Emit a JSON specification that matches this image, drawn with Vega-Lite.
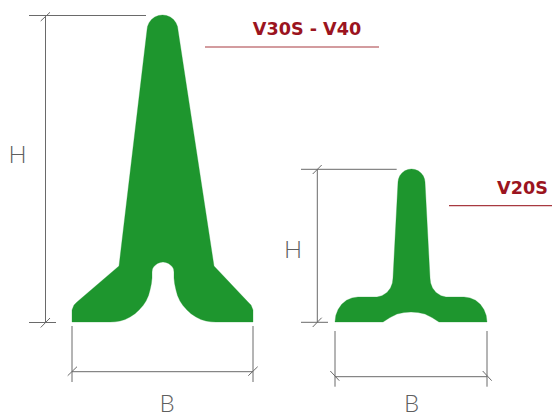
{"$schema":"https://vega.github.io/schema/vega-lite/v6.json","width":552,"height":415,"padding":0,"autosize":{"type":"none"},"background":"white","config":{"view":{"stroke":null}},
"datasets":{
"profiles":[
{"p":"V30S","i":1,"x":147,"y":30},{"p":"V30S","i":2,"x":147.5,"y":26.5},{"p":"V30S","i":3,"x":149.1,"y":22.75},{"p":"V30S","i":4,"x":151.5,"y":19.5},{"p":"V30S","i":5,"x":154.75,"y":17.1},{"p":"V30S","i":6,"x":158.5,"y":15.5},{"p":"V30S","i":7,"x":162.5,"y":15},{"p":"V30S","i":8,"x":166.5,"y":15.5},{"p":"V30S","i":9,"x":170.25,"y":17.1},{"p":"V30S","i":10,"x":173.5,"y":19.5},{"p":"V30S","i":11,"x":175.9,"y":22.75},{"p":"V30S","i":12,"x":177.5,"y":26.5},{"p":"V30S","i":13,"x":178,"y":30},
{"p":"V30S","i":14,"x":214,"y":266},{"p":"V30S","i":15,"x":248,"y":302},{"p":"V30S","i":16,"x":251,"y":305},{"p":"V30S","i":17,"x":253,"y":310},{"p":"V30S","i":18,"x":253,"y":322},
{"p":"V30S","i":19,"x":216,"y":322},{"p":"V30S","i":20,"x":211,"y":321.8},{"p":"V30S","i":21,"x":206,"y":321},{"p":"V30S","i":22,"x":201,"y":319.5},{"p":"V30S","i":23,"x":196,"y":317},{"p":"V30S","i":24,"x":191,"y":313.7},{"p":"V30S","i":25,"x":187,"y":310},{"p":"V30S","i":26,"x":183,"y":305.5},{"p":"V30S","i":27,"x":180,"y":301},{"p":"V30S","i":28,"x":177.5,"y":295.5},{"p":"V30S","i":29,"x":176,"y":290},{"p":"V30S","i":30,"x":174.7,"y":284},{"p":"V30S","i":31,"x":174,"y":278},{"p":"V30S","i":32,"x":174,"y":272},
{"p":"V30S","i":33,"x":173.6,"y":269},{"p":"V30S","i":34,"x":172.5,"y":267},{"p":"V30S","i":35,"x":170.8,"y":265.2},{"p":"V30S","i":36,"x":168.5,"y":263.5},{"p":"V30S","i":37,"x":165.8,"y":262.4},{"p":"V30S","i":38,"x":163,"y":262},{"p":"V30S","i":39,"x":160.2,"y":262.4},{"p":"V30S","i":40,"x":157.5,"y":263.5},{"p":"V30S","i":41,"x":155.2,"y":265.2},{"p":"V30S","i":42,"x":153.5,"y":267},{"p":"V30S","i":43,"x":152.4,"y":269},{"p":"V30S","i":44,"x":152,"y":272},
{"p":"V30S","i":45,"x":152,"y":278},{"p":"V30S","i":46,"x":151.3,"y":284},{"p":"V30S","i":47,"x":150,"y":290},{"p":"V30S","i":48,"x":148.5,"y":295.5},{"p":"V30S","i":49,"x":146,"y":301},{"p":"V30S","i":50,"x":143,"y":305.5},{"p":"V30S","i":51,"x":139,"y":310},{"p":"V30S","i":52,"x":135,"y":313.7},{"p":"V30S","i":53,"x":130,"y":317},{"p":"V30S","i":54,"x":125,"y":319.5},{"p":"V30S","i":55,"x":120,"y":321},{"p":"V30S","i":56,"x":115,"y":321.8},{"p":"V30S","i":57,"x":110,"y":322},
{"p":"V30S","i":58,"x":72,"y":322},{"p":"V30S","i":59,"x":72,"y":310},{"p":"V30S","i":60,"x":74,"y":305},{"p":"V30S","i":61,"x":77,"y":302},{"p":"V30S","i":62,"x":119,"y":266},{"p":"V30S","i":63,"x":147,"y":30},
{"p":"V20S","i":1,"x":398,"y":182},{"p":"V20S","i":2,"x":398.5,"y":179},{"p":"V20S","i":3,"x":399.8,"y":175.75},{"p":"V20S","i":4,"x":402,"y":173},{"p":"V20S","i":5,"x":404.75,"y":170.8},{"p":"V20S","i":6,"x":408,"y":169.5},{"p":"V20S","i":7,"x":411.5,"y":169},{"p":"V20S","i":8,"x":415,"y":169.5},{"p":"V20S","i":9,"x":418.25,"y":170.8},{"p":"V20S","i":10,"x":421,"y":173},{"p":"V20S","i":11,"x":423.2,"y":175.75},{"p":"V20S","i":12,"x":424.5,"y":179},{"p":"V20S","i":13,"x":425,"y":182},
{"p":"V20S","i":14,"x":430,"y":278},{"p":"V20S","i":15,"x":430.6,"y":283},{"p":"V20S","i":16,"x":432.5,"y":288},{"p":"V20S","i":17,"x":436,"y":292.5},{"p":"V20S","i":18,"x":441,"y":295.7},{"p":"V20S","i":19,"x":446,"y":297},{"p":"V20S","i":20,"x":464,"y":297},{"p":"V20S","i":21,"x":470,"y":297.9},{"p":"V20S","i":22,"x":475.5,"y":300.3},{"p":"V20S","i":23,"x":480.3,"y":304.3},{"p":"V20S","i":24,"x":483.9,"y":309.5},{"p":"V20S","i":25,"x":486.2,"y":315.5},{"p":"V20S","i":26,"x":487,"y":322},
{"p":"V20S","i":27,"x":439,"y":322},{"p":"V20S","i":28,"x":432,"y":317.5},{"p":"V20S","i":29,"x":425,"y":314},{"p":"V20S","i":30,"x":418,"y":312.5},{"p":"V20S","i":31,"x":411,"y":312},{"p":"V20S","i":32,"x":404,"y":312.5},{"p":"V20S","i":33,"x":397,"y":314},{"p":"V20S","i":34,"x":390,"y":317.5},{"p":"V20S","i":35,"x":383,"y":322},
{"p":"V20S","i":36,"x":335,"y":322},{"p":"V20S","i":37,"x":335.8,"y":315.5},{"p":"V20S","i":38,"x":338.1,"y":309.5},{"p":"V20S","i":39,"x":341.7,"y":304.3},{"p":"V20S","i":40,"x":346.5,"y":300.3},{"p":"V20S","i":41,"x":352,"y":297.9},{"p":"V20S","i":42,"x":358,"y":297},{"p":"V20S","i":43,"x":377,"y":297},{"p":"V20S","i":44,"x":382,"y":295.7},{"p":"V20S","i":45,"x":387,"y":292.5},{"p":"V20S","i":46,"x":390.5,"y":288},{"p":"V20S","i":47,"x":392.4,"y":283},{"p":"V20S","i":48,"x":393,"y":278},{"p":"V20S","i":49,"x":398,"y":182}
],
"dims":[
{"x":45.5,"y":15.5,"x2":45.5,"y2":322.5},{"x":29,"y":15.5,"x2":146,"y2":15.5},{"x":29,"y":322.5,"x2":56,"y2":322.5},{"x":40.7,"y":21,"x2":50,"y2":12.3},{"x":40.7,"y":327.5,"x2":50,"y2":318},
{"x":72,"y":326,"x2":72,"y2":382},{"x":253,"y":326,"x2":253,"y2":382},{"x":72,"y":371.7,"x2":253,"y2":371.7},{"x":67.7,"y":375.7,"x2":77,"y2":366.7},{"x":248.3,"y":375.7,"x2":257.7,"y2":366.7},
{"x":317.3,"y":169.3,"x2":317.3,"y2":322.3},{"x":301,"y":169.3,"x2":396.7,"y2":169.3},{"x":301,"y":322.3,"x2":328,"y2":322.3},{"x":312.7,"y":174,"x2":321.7,"y2":165},{"x":312.7,"y":327,"x2":321.7,"y2":317.7},
{"x":335,"y":331,"x2":335,"y2":386.7},{"x":487,"y":331,"x2":487,"y2":386.7},{"x":335,"y":376.7,"x2":487,"y2":376.7},{"x":330.3,"y":371,"x2":339.3,"y2":380.7},{"x":482.7,"y":371,"x2":491.7,"y2":380.7}
],
"leaders":[{"x":205,"y":47,"x2":379,"y2":47},{"x":449,"y":205.7,"x2":552,"y2":205.7}],
"letters":[{"t":"H","x":17.5,"y":156},{"t":"B","x":167,"y":405},{"t":"H","x":293,"y":251},{"t":"B","x":411.5,"y":405}],
"names":[{"t":"V30S - V40","x":307,"y":30},{"t":"V20S","x":522.5,"y":189}]
},
"layer":[
{"data":{"name":"profiles"},"mark":{"type":"line","fill":"#1e962e","stroke":"#1e962e","strokeWidth":0.3,"interpolate":"linear"},"encoding":{"x":{"field":"x","type":"quantitative","scale":{"domain":[0,552],"nice":false,"zero":false},"axis":null},"y":{"field":"y","type":"quantitative","scale":{"domain":[415,0],"nice":false,"zero":false},"axis":null},"detail":{"field":"p"},"order":{"field":"i","type":"quantitative"}}},
{"data":{"name":"dims"},"mark":{"type":"rule","stroke":"#6a6a6a","strokeWidth":1},"encoding":{"x":{"field":"x","type":"quantitative"},"y":{"field":"y","type":"quantitative"},"x2":{"field":"x2"},"y2":{"field":"y2"}}},
{"data":{"name":"leaders"},"mark":{"type":"rule","stroke":"#a83a40","strokeWidth":1.2},"encoding":{"x":{"field":"x","type":"quantitative"},"y":{"field":"y","type":"quantitative"},"x2":{"field":"x2"},"y2":{"field":"y2"}}},
{"data":{"name":"letters"},"mark":{"type":"text","font":"Lato","fontWeight":300,"fontSize":24,"fill":"#5f5f5f","align":"center","baseline":"middle"},"encoding":{"x":{"field":"x","type":"quantitative"},"y":{"field":"y","type":"quantitative"},"text":{"field":"t"}}},
{"data":{"name":"names"},"mark":{"type":"text","font":"DejaVu Sans","fontWeight":"bold","fontSize":17.6,"fill":"#9b1420","align":"center","baseline":"middle"},"encoding":{"x":{"field":"x","type":"quantitative"},"y":{"field":"y","type":"quantitative"},"text":{"field":"t"}}}
]}
